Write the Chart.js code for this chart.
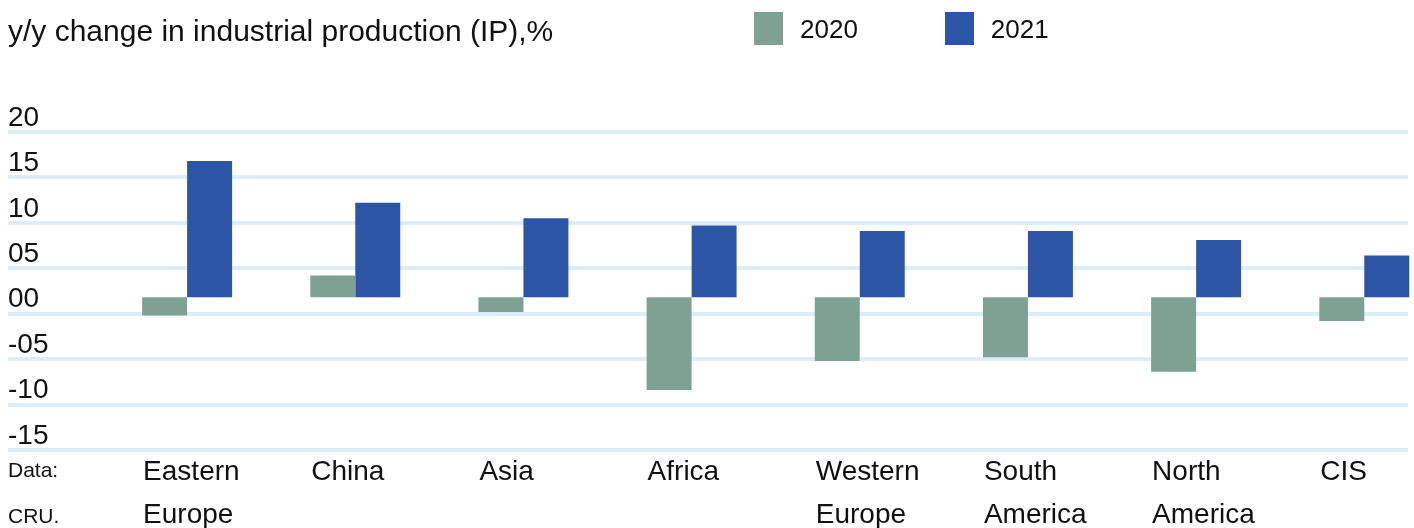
<!DOCTYPE html>
<html>
<head>
<meta charset="utf-8">
<script src="https://cdn.jsdelivr.net/npm/chart.js@4/dist/chart.umd.min.js"></script>
<style>
  body { margin: 0; background: #fff; font-family: 'Liberation Sans', Arial, sans-serif; color: #111; }
  #wrap { position: relative; width: 1414px; height: 528px; }
  #title { position: absolute; left: 8px; top: 13px; font-size: 30px; line-height: 36px; }
  #legend { position: absolute; left: 754px; top: 11px; display: flex; }
  #legend .item { display: flex; align-items: center; margin-right: 87px; }
  #legend .box { width: 29px; height: 33px; margin-right: 17px; }
  #legend .txt { font-size: 26px; margin-top: 3px; }
  #source { position: absolute; left: 8px; top: 447px; font-size: 21px; line-height: 46px; }
</style>
</head>
<body>
<div id="wrap">
  <canvas id="ipChart" width="1414" height="528"></canvas>
  <div id="title">y/y change in industrial production (IP),%</div>
  <div id="legend"></div>
  <div id="source">Data:<br>CRU.</div>
</div>
<script>
// y/y change in industrial production by region
const categories = ['Eastern Europe', 'China', 'Asia', 'Africa', 'Western Europe', 'South America', 'North America', 'CIS'];
const ip2020 = [-2.0, 2.4, -1.6, -10.2, -7.0, -6.6, -8.2, -2.6];
const ip2021 = [15.0, 10.4, 8.7, 7.9, 7.3, 7.3, 6.3, 4.6];
const yTicks = [20, 15, 10, 5, 0, -5, -10, -15];

const green = '#7fa193';
const blue = '#2c56a5';

Chart.defaults.font.family = "'Liberation Sans', Arial, sans-serif";
Chart.defaults.color = '#111';

// bars sit on their own baseline, drawn a bit above the "00" gridline
const barShift = 1.8;

function fmtTick(v) {
  let s = String(Math.abs(v)).padStart(2, '0');
  return v < 0 ? '-' + s : s;
}

var ctx = document.getElementById('ipChart').getContext('2d');

var ipChart = new Chart(ctx, {
  type: 'bar',
  data: {
    datasets: [{
      label: '2020',
      data: ip2020.map((v, i) => ({ x: i, y: v })),
      backgroundColor: green,
      yAxisID: 'yb'
    }, {
      label: '2021',
      data: ip2021.map((v, i) => ({ x: i, y: v })),
      backgroundColor: blue,
      yAxisID: 'yb'
    }]
  },
  options: {
    responsive: false,
    animation: false,
    layout: { padding: { top: 132, left: 8, right: 6, bottom: 0 } },
    datasets: {
      bar: { categoryPercentage: 0.535, barPercentage: 1, clip: false }
    },
    scales: {
      x: {
        type: 'linear',
        offset: false,
        min: -1.065,
        max: 7.26,
        grid: { display: false, offset: false },
        border: { display: false },
        afterBuildTicks: (scale) => {
          scale.ticks = categories.map((c, i) => ({ value: i }));
        },
        afterFit: (scale) => { scale.height = 78; },
        ticks: {
          align: 'start',
          labelOffset: -44,
          padding: -7,
          autoSkip: false,
          maxRotation: 0,
          font: { size: 28, lineHeight: 1.536 },
          callback: (value) => categories[value] ? categories[value].split(' ') : ''
        }
      },
      y: {
        min: Math.min(...yTicks),
        max: Math.max(...yTicks),
        grid: { color: '#ddedf6', lineWidth: 4, drawTicks: false },
        border: { display: false },
        afterBuildTicks: (scale) => {
          scale.ticks = yTicks.map(v => ({ value: v }));
        },
        ticks: {
          mirror: true,
          padding: 0,
          labelOffset: -14,
          font: { size: 28 },
          callback: (value) => fmtTick(value)
        }
      },
      yb: {
        display: false,
        min: Math.min(...yTicks) - barShift,
        max: Math.max(...yTicks) - barShift
      }
    },
    plugins: {
      legend: { display: false },
      tooltip: { enabled: false }
    }
  }
});

// html legend built from the chart datasets
const legendBox = document.getElementById('legend');
ipChart.data.datasets.forEach(ds => {
  const item = document.createElement('div');
  item.className = 'item';
  item.innerHTML = '<span class="box" style="background:' + ds.backgroundColor + '"></span><span class="txt">' + ds.label + '</span>';
  legendBox.appendChild(item);
});
</script>
</body>
</html>
